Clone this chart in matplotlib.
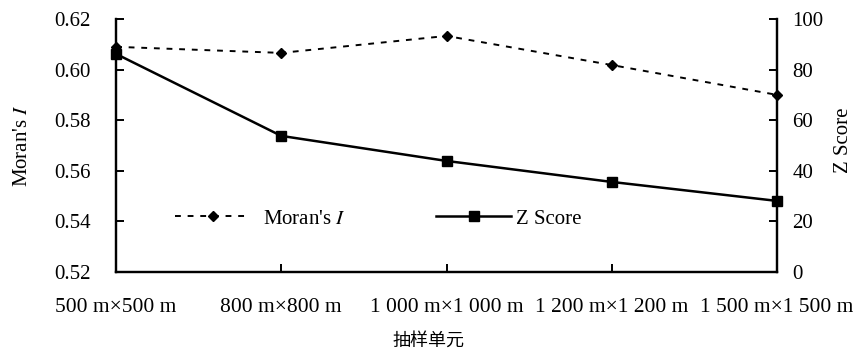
import matplotlib
matplotlib.use('agg')
import matplotlib.pyplot as plt

# data
units = ['500 m×500 m', '800 m×800 m', '1 000 m×1 000 m', '1 200 m×1 200 m', '1 500 m×1 500 m']
morans_i = [0.609, 0.6066, 0.6133, 0.6018, 0.590]
z_score = [86.2, 53.8, 43.9, 35.6, 28.1]

plt.rcParams['font.family'] = ['Liberation Serif', 'Noto Sans CJK SC']
plt.rcParams['mathtext.fontset'] = 'stix'
plt.rcParams['font.size'] = 15

fig = plt.figure(figsize=(8.55, 3.61), dpi=100)
ax = fig.add_axes([0.1357, 0.2465, 0.7731, 0.7009])
ax2 = ax.twinx()

x = range(len(units))
l1, = ax.plot(x, morans_i, color='black', lw=1.4, ls=(0, (3, 3.5)),
              marker='D', ms=5.5, label="Moran's $\\mathit{I}$", clip_on=False)
l2, = ax2.plot(x, z_score, color='black', lw=1.8, marker='s', ms=7.5,
               label='Z Score', clip_on=False)

ax.set_xlim(0, 4)
ax.set_ylim(0.52, 0.62)
ax.set_yticks([0.52, 0.54, 0.56, 0.58, 0.60, 0.62])
ax.set_yticklabels(['0.52', '0.54', '0.56', '0.58', '0.60', '0.62'])
ax2.set_ylim(0, 100)
ax2.set_yticks(range(0, 101, 20))
ax.set_xticks(list(x))
ax.set_xticklabels(units, fontsize=15.5)

for a in (ax, ax2):
    a.spines['top'].set_visible(False)
    for s in a.spines.values():
        s.set_linewidth(1.6)
ax.tick_params(axis='x', direction='in', length=6, width=1.4, pad=19)
ax.tick_params(axis='y', direction='in', length=6, width=1.4, pad=18)
ax2.tick_params(axis='y', direction='in', length=6, width=1.4, pad=11)

ax.set_ylabel("Moran's $\\mathit{I}$")
ax.yaxis.set_label_coords(-0.127, 0.5)
ax2.set_ylabel('Z Score')
ax2.yaxis.set_label_coords(1.086, 0.52)
ax.set_xlabel('抽样单元', fontsize=13)
ax.xaxis.set_label_coords(0.472, -0.24)

# two separate legend entries, placed like the original
leg1 = ax.legend(handles=[l1], loc='center left', bbox_to_anchor=(0.074, 0.21),
                 frameon=False, borderpad=0, handlelength=3.6, handletextpad=0.6)
ax.add_artist(leg1)
ax.legend(handles=[l2], loc='center left', bbox_to_anchor=(0.469, 0.21),
          frameon=False, borderpad=0, handlelength=3.6, handletextpad=0.2)

fig.savefig('out.png', dpi=100)
